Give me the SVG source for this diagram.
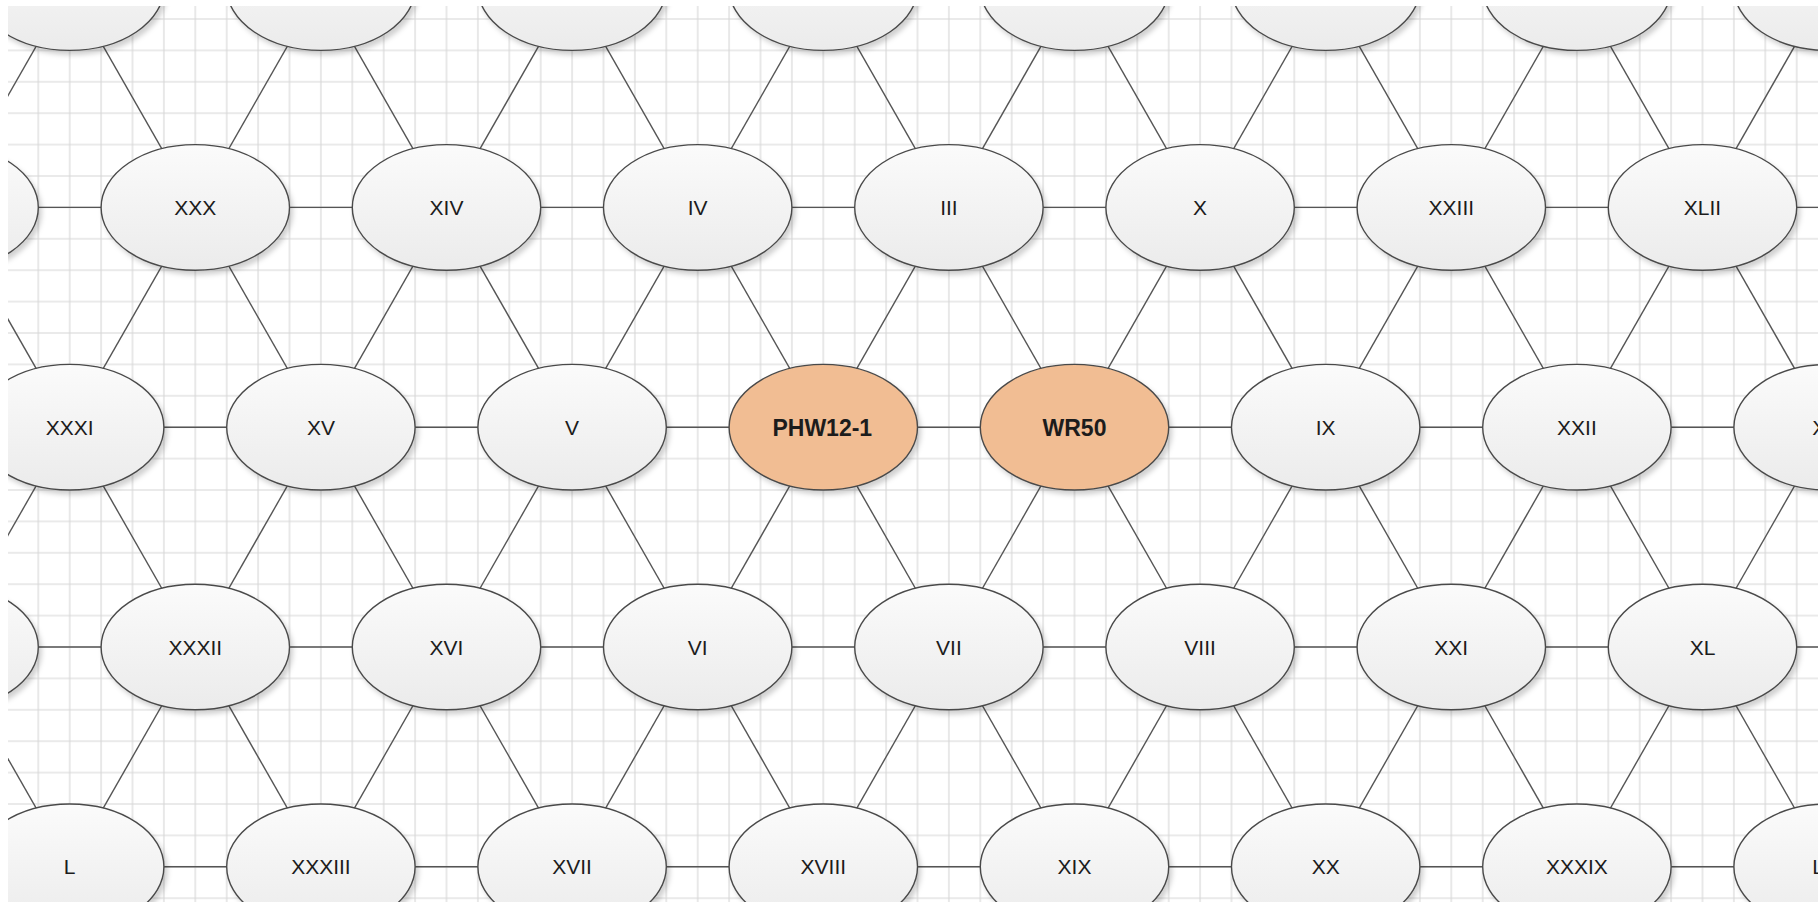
<svg xmlns="http://www.w3.org/2000/svg" width="1818" height="902" viewBox="0 0 1818 902">
<defs>
<style>
.grid{fill:url(#gp)}
.conn path{stroke:#555;stroke-width:1.4;fill:none}
.node ellipse{fill:url(#gf);stroke:#4a4a4a;stroke-width:1.4;filter:url(#sh)}
.node.hl ellipse{fill:#f1bd93}
.node text{font-family:"Liberation Sans",Arial,sans-serif;font-size:21px;fill:#1c1c1c;text-anchor:middle}
.node.hl text{font-size:23px;font-weight:bold}
</style>
<pattern id="gp" patternUnits="userSpaceOnUse" x="22.6" y="3.3" width="31.4" height="31.4">
<path d="M15.7 0V31.4M0 15.7H31.4" stroke="#d6d6d6" stroke-width="1.1" fill="none"/>
</pattern>
<linearGradient id="gf" x1="0" y1="0" x2="0" y2="1">
<stop offset="0" stop-color="#fbfbfb"/>
<stop offset="1" stop-color="#ebebeb"/>
</linearGradient>
<filter id="sh" x="-20%" y="-20%" width="145%" height="150%">
<feDropShadow dx="3" dy="4" stdDeviation="2.5" flood-color="#000" flood-opacity="0.18"/>
</filter>
<clipPath id="clip"><rect x="8" y="6" width="1810" height="896"/></clipPath>
</defs>
<rect width="1818" height="902" fill="#fff"/>
<g clip-path="url(#clip)">
<rect class="grid" x="8" y="6" width="1810" height="896"/>
<g id="connectors" class="conn">
<path d="M-55.9 207.4L195.3 207.4"/><path d="M195.3 207.4L446.5 207.4"/><path d="M446.5 207.4L697.7 207.4"/><path d="M697.7 207.4L948.9 207.4"/><path d="M948.9 207.4L1200.1 207.4"/><path d="M1200.1 207.4L1451.3 207.4"/><path d="M1451.3 207.4L1702.5 207.4"/><path d="M1702.5 207.4L1953.7 207.4"/>
<path d="M69.7 427.2L320.9 427.2"/><path d="M320.9 427.2L572.1 427.2"/><path d="M572.1 427.2L823.3 427.2"/><path d="M823.3 427.2L1074.5 427.2"/><path d="M1074.5 427.2L1325.7 427.2"/><path d="M1325.7 427.2L1576.9 427.2"/><path d="M1576.9 427.2L1828.1 427.2"/>
<path d="M-55.9 647L195.3 647"/><path d="M195.3 647L446.5 647"/><path d="M446.5 647L697.7 647"/><path d="M697.7 647L948.9 647"/><path d="M948.9 647L1200.1 647"/><path d="M1200.1 647L1451.3 647"/><path d="M1451.3 647L1702.5 647"/><path d="M1702.5 647L1953.7 647"/>
<path d="M69.7 866.8L320.9 866.8"/><path d="M320.9 866.8L572.1 866.8"/><path d="M572.1 866.8L823.3 866.8"/><path d="M823.3 866.8L1074.5 866.8"/><path d="M1074.5 866.8L1325.7 866.8"/><path d="M1325.7 866.8L1576.9 866.8"/><path d="M1576.9 866.8L1828.1 866.8"/>
<path d="M-55.9 207.4L69.7 -12.4"/>
<path d="M195.3 207.4L320.9 -12.4"/><path d="M195.3 207.4L69.7 -12.4"/>
<path d="M446.5 207.4L572.1 -12.4"/><path d="M446.5 207.4L320.9 -12.4"/>
<path d="M697.7 207.4L823.3 -12.4"/><path d="M697.7 207.4L572.1 -12.4"/>
<path d="M948.9 207.4L1074.5 -12.4"/><path d="M948.9 207.4L823.3 -12.4"/>
<path d="M1200.1 207.4L1325.7 -12.4"/><path d="M1200.1 207.4L1074.5 -12.4"/>
<path d="M1451.3 207.4L1576.9 -12.4"/><path d="M1451.3 207.4L1325.7 -12.4"/>
<path d="M1702.5 207.4L1828.1 -12.4"/><path d="M1702.5 207.4L1576.9 -12.4"/>
<path d="M-55.9 207.4L69.7 427.2"/>
<path d="M195.3 207.4L320.9 427.2"/><path d="M195.3 207.4L69.7 427.2"/>
<path d="M446.5 207.4L572.1 427.2"/><path d="M446.5 207.4L320.9 427.2"/>
<path d="M697.7 207.4L823.3 427.2"/><path d="M697.7 207.4L572.1 427.2"/>
<path d="M948.9 207.4L1074.5 427.2"/><path d="M948.9 207.4L823.3 427.2"/>
<path d="M1200.1 207.4L1325.7 427.2"/><path d="M1200.1 207.4L1074.5 427.2"/>
<path d="M1451.3 207.4L1576.9 427.2"/><path d="M1451.3 207.4L1325.7 427.2"/>
<path d="M1702.5 207.4L1828.1 427.2"/><path d="M1702.5 207.4L1576.9 427.2"/>
<path d="M-55.9 647L69.7 427.2"/>
<path d="M195.3 647L320.9 427.2"/><path d="M195.3 647L69.7 427.2"/>
<path d="M446.5 647L572.1 427.2"/><path d="M446.5 647L320.9 427.2"/>
<path d="M697.7 647L823.3 427.2"/><path d="M697.7 647L572.1 427.2"/>
<path d="M948.9 647L1074.5 427.2"/><path d="M948.9 647L823.3 427.2"/>
<path d="M1200.1 647L1325.7 427.2"/><path d="M1200.1 647L1074.5 427.2"/>
<path d="M1451.3 647L1576.9 427.2"/><path d="M1451.3 647L1325.7 427.2"/>
<path d="M1702.5 647L1828.1 427.2"/><path d="M1702.5 647L1576.9 427.2"/>
<path d="M-55.9 647L69.7 866.8"/>
<path d="M195.3 647L320.9 866.8"/><path d="M195.3 647L69.7 866.8"/>
<path d="M446.5 647L572.1 866.8"/><path d="M446.5 647L320.9 866.8"/>
<path d="M697.7 647L823.3 866.8"/><path d="M697.7 647L572.1 866.8"/>
<path d="M948.9 647L1074.5 866.8"/><path d="M948.9 647L823.3 866.8"/>
<path d="M1200.1 647L1325.7 866.8"/><path d="M1200.1 647L1074.5 866.8"/>
<path d="M1451.3 647L1576.9 866.8"/><path d="M1451.3 647L1325.7 866.8"/>
<path d="M1702.5 647L1828.1 866.8"/><path d="M1702.5 647L1576.9 866.8"/>
</g>
<g id="n-t0" class="node"><ellipse cx="69.7" cy="-12.4" rx="94.2" ry="62.8"/></g>
<g id="n-t1" class="node"><ellipse cx="320.9" cy="-12.4" rx="94.2" ry="62.8"/></g>
<g id="n-t2" class="node"><ellipse cx="572.1" cy="-12.4" rx="94.2" ry="62.8"/></g>
<g id="n-t3" class="node"><ellipse cx="823.3" cy="-12.4" rx="94.2" ry="62.8"/></g>
<g id="n-t4" class="node"><ellipse cx="1074.5" cy="-12.4" rx="94.2" ry="62.8"/></g>
<g id="n-t5" class="node"><ellipse cx="1325.7" cy="-12.4" rx="94.2" ry="62.8"/></g>
<g id="n-t6" class="node"><ellipse cx="1576.9" cy="-12.4" rx="94.2" ry="62.8"/></g>
<g id="n-t7" class="node"><ellipse cx="1828.1" cy="-12.4" rx="94.2" ry="62.8"/></g>
<g id="n-l1" class="node"><ellipse cx="-55.9" cy="207.4" rx="94.2" ry="62.8"/></g>
<g id="n-XXX" class="node"><ellipse cx="195.3" cy="207.4" rx="94.2" ry="62.8"/><text x="195.3" y="214.9">XXX</text></g>
<g id="n-XIV" class="node"><ellipse cx="446.5" cy="207.4" rx="94.2" ry="62.8"/><text x="446.5" y="214.9">XIV</text></g>
<g id="n-IV" class="node"><ellipse cx="697.7" cy="207.4" rx="94.2" ry="62.8"/><text x="697.7" y="214.9">IV</text></g>
<g id="n-III" class="node"><ellipse cx="948.9" cy="207.4" rx="94.2" ry="62.8"/><text x="948.9" y="214.9">III</text></g>
<g id="n-X" class="node"><ellipse cx="1200.1" cy="207.4" rx="94.2" ry="62.8"/><text x="1200.1" y="214.9">X</text></g>
<g id="n-XXIII" class="node"><ellipse cx="1451.3" cy="207.4" rx="94.2" ry="62.8"/><text x="1451.3" y="214.9">XXIII</text></g>
<g id="n-XLII" class="node"><ellipse cx="1702.5" cy="207.4" rx="94.2" ry="62.8"/><text x="1702.5" y="214.9">XLII</text></g>
<g id="n-XXXI" class="node"><ellipse cx="69.7" cy="427.2" rx="94.2" ry="62.8"/><text x="69.7" y="434.7">XXXI</text></g>
<g id="n-XV" class="node"><ellipse cx="320.9" cy="427.2" rx="94.2" ry="62.8"/><text x="320.9" y="434.7">XV</text></g>
<g id="n-V" class="node"><ellipse cx="572.1" cy="427.2" rx="94.2" ry="62.8"/><text x="572.1" y="434.7">V</text></g>
<g id="n-PHW12-1" class="node hl"><ellipse cx="823.3" cy="427.2" rx="94.2" ry="62.8"/><text x="822.3" y="435.5">PHW12-1</text></g>
<g id="n-WR50" class="node hl"><ellipse cx="1074.5" cy="427.2" rx="94.2" ry="62.8"/><text x="1074.5" y="435.5">WR50</text></g>
<g id="n-IX" class="node"><ellipse cx="1325.7" cy="427.2" rx="94.2" ry="62.8"/><text x="1325.7" y="434.7">IX</text></g>
<g id="n-XXII" class="node"><ellipse cx="1576.9" cy="427.2" rx="94.2" ry="62.8"/><text x="1576.9" y="434.7">XXII</text></g>
<g id="n-XLI" class="node"><ellipse cx="1828.1" cy="427.2" rx="94.2" ry="62.8"/><text x="1828.1" y="434.7">XLI</text></g>
<g id="n-l3" class="node"><ellipse cx="-55.9" cy="647" rx="94.2" ry="62.8"/></g>
<g id="n-XXXII" class="node"><ellipse cx="195.3" cy="647" rx="94.2" ry="62.8"/><text x="195.3" y="654.5">XXXII</text></g>
<g id="n-XVI" class="node"><ellipse cx="446.5" cy="647" rx="94.2" ry="62.8"/><text x="446.5" y="654.5">XVI</text></g>
<g id="n-VI" class="node"><ellipse cx="697.7" cy="647" rx="94.2" ry="62.8"/><text x="697.7" y="654.5">VI</text></g>
<g id="n-VII" class="node"><ellipse cx="948.9" cy="647" rx="94.2" ry="62.8"/><text x="948.9" y="654.5">VII</text></g>
<g id="n-VIII" class="node"><ellipse cx="1200.1" cy="647" rx="94.2" ry="62.8"/><text x="1200.1" y="654.5">VIII</text></g>
<g id="n-XXI" class="node"><ellipse cx="1451.3" cy="647" rx="94.2" ry="62.8"/><text x="1451.3" y="654.5">XXI</text></g>
<g id="n-XL" class="node"><ellipse cx="1702.5" cy="647" rx="94.2" ry="62.8"/><text x="1702.5" y="654.5">XL</text></g>
<g id="n-L" class="node"><ellipse cx="69.7" cy="866.8" rx="94.2" ry="62.8"/><text x="69.7" y="874.3">L</text></g>
<g id="n-XXXIII" class="node"><ellipse cx="320.9" cy="866.8" rx="94.2" ry="62.8"/><text x="320.9" y="874.3">XXXIII</text></g>
<g id="n-XVII" class="node"><ellipse cx="572.1" cy="866.8" rx="94.2" ry="62.8"/><text x="572.1" y="874.3">XVII</text></g>
<g id="n-XVIII" class="node"><ellipse cx="823.3" cy="866.8" rx="94.2" ry="62.8"/><text x="823.3" y="874.3">XVIII</text></g>
<g id="n-XIX" class="node"><ellipse cx="1074.5" cy="866.8" rx="94.2" ry="62.8"/><text x="1074.5" y="874.3">XIX</text></g>
<g id="n-XX" class="node"><ellipse cx="1325.7" cy="866.8" rx="94.2" ry="62.8"/><text x="1325.7" y="874.3">XX</text></g>
<g id="n-XXXIX" class="node"><ellipse cx="1576.9" cy="866.8" rx="94.2" ry="62.8"/><text x="1576.9" y="874.3">XXXIX</text></g>
<g id="n-LIX" class="node"><ellipse cx="1828.1" cy="866.8" rx="94.2" ry="62.8"/><text x="1828.1" y="874.3">LIX</text></g>
</g>
</svg>
